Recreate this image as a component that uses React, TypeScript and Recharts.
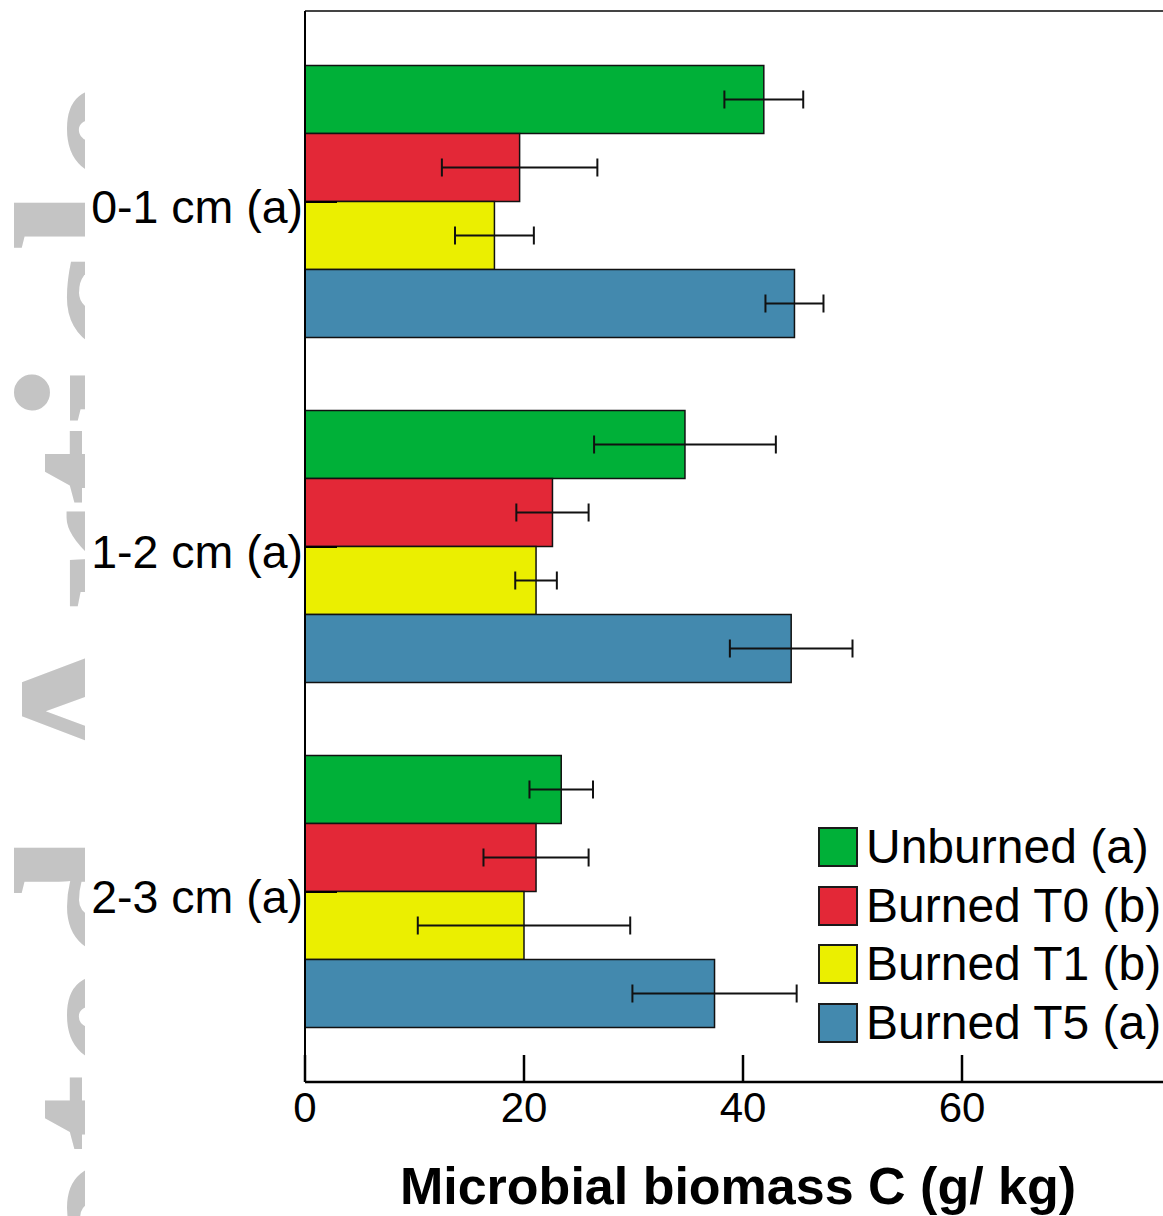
import React from "react";
import { BarChart, Bar, XAxis, YAxis, ErrorBar, Legend, CartesianGrid } from "recharts";

const depths = ["0-1 cm (a)", "1-2 cm (a)", "2-3 cm (a)"];
const seriesNames = ["Unburned (a)", "Burned T0 (b)", "Burned T1 (b)", "Burned T5 (a)"];
const seriesColors = ["#00B038", "#E32837", "#EBEF00", "#4389AE"];

const unburned = [41.9, 34.7, 23.4];
const unburnedErr = [3.6, 8.3, 2.9];
const burnedT0 = [19.6, 22.6, 21.1];
const burnedT0Err = [7.1, 3.3, 4.8];
const burnedT1 = [17.3, 21.1, 20.0];
const burnedT1Err = [3.6, 1.9, 9.7];
const burnedT5 = [44.7, 44.4, 37.4];
const burnedT5Err = [2.65, 5.6, 7.5];

const xTicks = [0, 20, 40, 60];

const FONT = "'Liberation Sans', Arial, Helvetica, sans-serif";

const values = [unburned, burnedT0, burnedT1, burnedT5];
const errors = [unburnedErr, burnedT0Err, burnedT1Err, burnedT5Err];

const data = depths.map((depth, i) => {
  const row: any = { depth };
  values.forEach((v, s) => {
    row["s" + s] = v[i];
    row["e" + s] = errors[s][i];
  });
  return row;
});

const YTick = ({ x, y, payload }: any) => (
  <g>
    <line x1={x} y1={y + 1} x2={x + 32} y2={y + 1} stroke="#000" strokeWidth={2} />
    <text x={x - 2} y={y + 22} textAnchor="end" fontSize={46.5} fill="#000" fontFamily={FONT}>
      {payload.value}
    </text>
  </g>
);

const XTick = ({ x, y, payload }: any) => (
  <g>
    <line x1={x} y1={y} x2={x} y2={y - 27} stroke="#000" strokeWidth={2.5} />
    <text
      x={x}
      y={y + 40}
      textAnchor="middle"
      fontSize={42}
      fill="#000"
      fontFamily={"'Liberation Sans Narrow', " + FONT}
    >
      {payload.value}
    </text>
  </g>
);

const LegendContent = () => (
  <div style={{ fontFamily: FONT, fontSize: 48, color: "#000" }}>
    {seriesNames.map((name, i) => (
      <div key={name} style={{ display: "flex", alignItems: "center", height: 58.5 }}>
        <div
          style={{
            width: 36,
            height: 36,
            background: seriesColors[i],
            border: "2px solid #1a1a1a",
            marginRight: 8,
            flexShrink: 0,
          }}
        />
        <span style={{ lineHeight: 1, whiteSpace: "nowrap" }}>{name}</span>
      </div>
    ))}
  </div>
);

// grey "Accepted Article" watermark, cut off at the figure edge
const Watermark = () => (
  <svg width={85} height={1216} style={{ position: "absolute", left: 0, top: 0 }}>
    <text
      transform="translate(180, 80) rotate(-90)"
      textAnchor="end"
      fontSize={240}
      fontWeight="bold"
      fontFamily="'Liberation Serif', 'Times New Roman', serif"
      fill="#C4C4C4"
    >
      Accepted Article
    </text>
  </svg>
);

export default function App() {
  return (
    <div
      style={{
        position: "absolute",
        left: 0,
        top: 0,
        width: 1163,
        height: 1216,
        overflow: "hidden",
        background: "#fff",
      }}
    >
      <Watermark />
      <div style={{ position: "absolute", left: 0, top: 0 }}>
        <BarChart
          width={1200}
          height={1216}
          data={data}
          layout="vertical"
          margin={{ top: 11, right: 19, bottom: 0, left: 0 }}
          barGap={0}
          barSize={68}
          style={{ fontFamily: FONT }}
        >
          <CartesianGrid
            vertical={false}
            horizontalCoordinatesGenerator={({ offset }: any) => [offset.top]}
            stroke="#444"
            strokeWidth={2}
          />
          <XAxis
            type="number"
            domain={[0, 80]}
            ticks={xTicks}
            height={134}
            tickSize={0}
            tickMargin={0}
            tickLine={false}
            tick={<XTick />}
            axisLine={{ stroke: "#000", strokeWidth: 2.5 }}
            label={{
              value: "Microbial biomass C (g/ kg)",
              position: "insideBottom",
              offset: 12,
              dx: -5,
              style: { fontSize: 52, fontWeight: "bold", fill: "#000", fontFamily: FONT },
            }}
          />
          <YAxis
            type="category"
            dataKey="depth"
            width={305}
            tickSize={0}
            tickMargin={0}
            tickLine={false}
            tick={<YTick />}
            padding={{ top: 17.5, bottom: 18.5 }}
            axisLine={{ stroke: "#000", strokeWidth: 2 }}
          />
          <Legend
            layout="vertical"
            align="center"
            verticalAlign="middle"
            content={<LegendContent />}
            wrapperStyle={{ left: 818, top: 818, width: 345 }}
          />
          {seriesNames.map((name, s) => (
            <Bar
              key={name}
              dataKey={"s" + s}
              name={name}
              fill={seriesColors[s]}
              stroke="#111"
              strokeWidth={1.5}
              isAnimationActive={false}
            >
              <ErrorBar dataKey={"e" + s} direction="x" width={9} stroke="#111" strokeWidth={2} />
            </Bar>
          ))}
        </BarChart>
      </div>
    </div>
  );
}
